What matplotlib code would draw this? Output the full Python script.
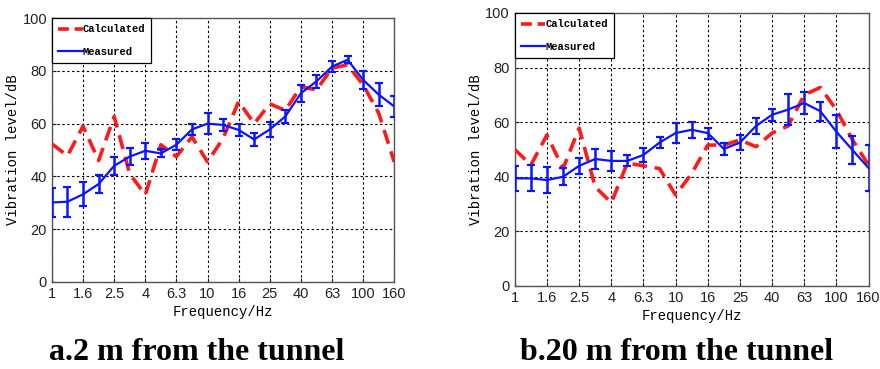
import matplotlib
matplotlib.use("Agg")
import matplotlib.pyplot as plt
from matplotlib.lines import Line2D
import numpy as np

# 1/3 octave band centre frequencies (Hz)
bands = ["1", "1.25", "1.6", "2", "2.5", "3.15", "4", "5", "6.3", "8", "10", "12.5",
         "16", "20", "25", "31.5", "40", "50", "63", "80", "100", "125", "160"]
tick_labels = ["1", "1.6", "2.5", "4", "6.3", "10", "16", "25", "40", "63", "100", "160"]

# a. 2 m from the tunnel
calc_a = [52.3, 47.8, 59.0, 46.0, 62.7, 41.0, 33.0, 52.0, 47.5, 55.0, 45.5, 54.4,
          68.4, 60.0, 67.5, 65.0, 74.0, 72.8, 81.0, 82.3, 74.7, 64.0, 45.5]
meas_a = [30.1, 30.4, 33.2, 37.1, 44.0, 47.5, 49.7, 48.7, 52.0, 57.8, 60.0, 59.5,
          57.6, 54.0, 57.8, 62.7, 71.5, 76.0, 81.6, 84.2, 76.6, 71.0, 66.5]
err_a = [5.5, 5.7, 4.5, 3.5, 3.5, 3.2, 3.0, 1.5, 2.0, 2.0, 4.0, 2.2,
         2.3, 2.6, 2.8, 2.5, 3.3, 2.5, 2.2, 1.3, 3.5, 4.3, 4.0]

# b. 20 m from the tunnel
calc_b = [50.0, 44.3, 55.3, 43.0, 57.8, 36.3, 30.5, 45.0, 44.0, 43.0, 33.3, 41.2,
          51.6, 51.6, 53.5, 51.0, 56.0, 58.6, 70.0, 72.7, 64.5, 53.5, 44.3]
meas_b = [39.4, 39.4, 38.8, 40.0, 44.0, 46.5, 45.8, 45.8, 48.0, 52.5, 56.0, 57.2,
          56.0, 50.2, 52.5, 58.6, 62.7, 64.6, 67.0, 64.0, 56.5, 49.8, 43.2]
err_b = [4.7, 4.8, 4.8, 3.2, 3.0, 3.7, 3.7, 2.0, 2.7, 2.0, 3.8, 3.0,
         2.0, 2.3, 2.8, 3.0, 2.2, 5.6, 4.2, 3.5, 6.0, 5.3, 8.5]

captions = ["a.2 m from the tunnel", "b.20 m from the tunnel"]

mono = "Liberation Mono"
red = "#ff1a1a"
blue = "#0a14ff"

fig = plt.figure(figsize=(8.8, 3.69), dpi=100)
ax_a = fig.add_axes([0.059, 0.236, 0.389, 0.715])
ax_b = fig.add_axes([0.585, 0.225, 0.402, 0.740])

x = np.arange(len(bands))
tick_pos = [bands.index(t) for t in tick_labels]

panels = [(ax_a, calc_a, meas_a, err_a), (ax_b, calc_b, meas_b, err_b)]
for ax, calc, meas, err in panels:
    ax.plot(x, calc, color=red, lw=2.6, dashes=(4, 2.2), zorder=3)
    ax.errorbar(x, meas, yerr=err, color=blue, lw=1.6, elinewidth=1.8,
                capsize=3, capthick=1.6, zorder=4)
    ax.set_xlim(0, len(bands) - 1)
    ax.set_ylim(0, 100)
    ax.set_xticks(tick_pos)
    ax.set_xticklabels(tick_labels)
    ax.set_yticks([0, 20, 40, 60, 80, 100])
    ax.tick_params(direction="in", length=3, labelsize=10.5, colors="#222222",
                   labelfontfamily="Liberation Sans")
    ax.grid(True, color="black", ls=(0, (2.2, 2.2)), lw=0.8)
    for s in ax.spines.values():
        s.set_color("#555555")
        s.set_linewidth(1.0)
    ax.set_xlabel("Frequency/Hz", family=mono, fontsize=10, labelpad=3)
    ax.set_ylabel("Vibration level/dB", family=mono, fontsize=10, labelpad=2)
    handles = [Line2D([], [], color=red, lw=2.6, dashes=(3, 1.6)),
               Line2D([], [], color=blue, lw=1.6)]
    leg = ax.legend(handles, ["Calculated", "Measured"], loc="upper left",
                    prop={"family": mono, "size": 7.6, "weight": "bold"},
                    handlelength=2.3, handletextpad=0.0, borderaxespad=0.0,
                    borderpad=0.6, fancybox=False, framealpha=1, edgecolor="black",
                    labelspacing=1.2)
    leg.get_frame().set_linewidth(0.9)

fig.text(0.224, 0.046, captions[0], ha="center", va="center", family="Liberation Serif",
         weight="bold", fontsize=23)
fig.text(0.769, 0.046, captions[1], ha="center", va="center", family="Liberation Serif",
         weight="bold", fontsize=23)

fig.savefig("out.png", dpi=100)
